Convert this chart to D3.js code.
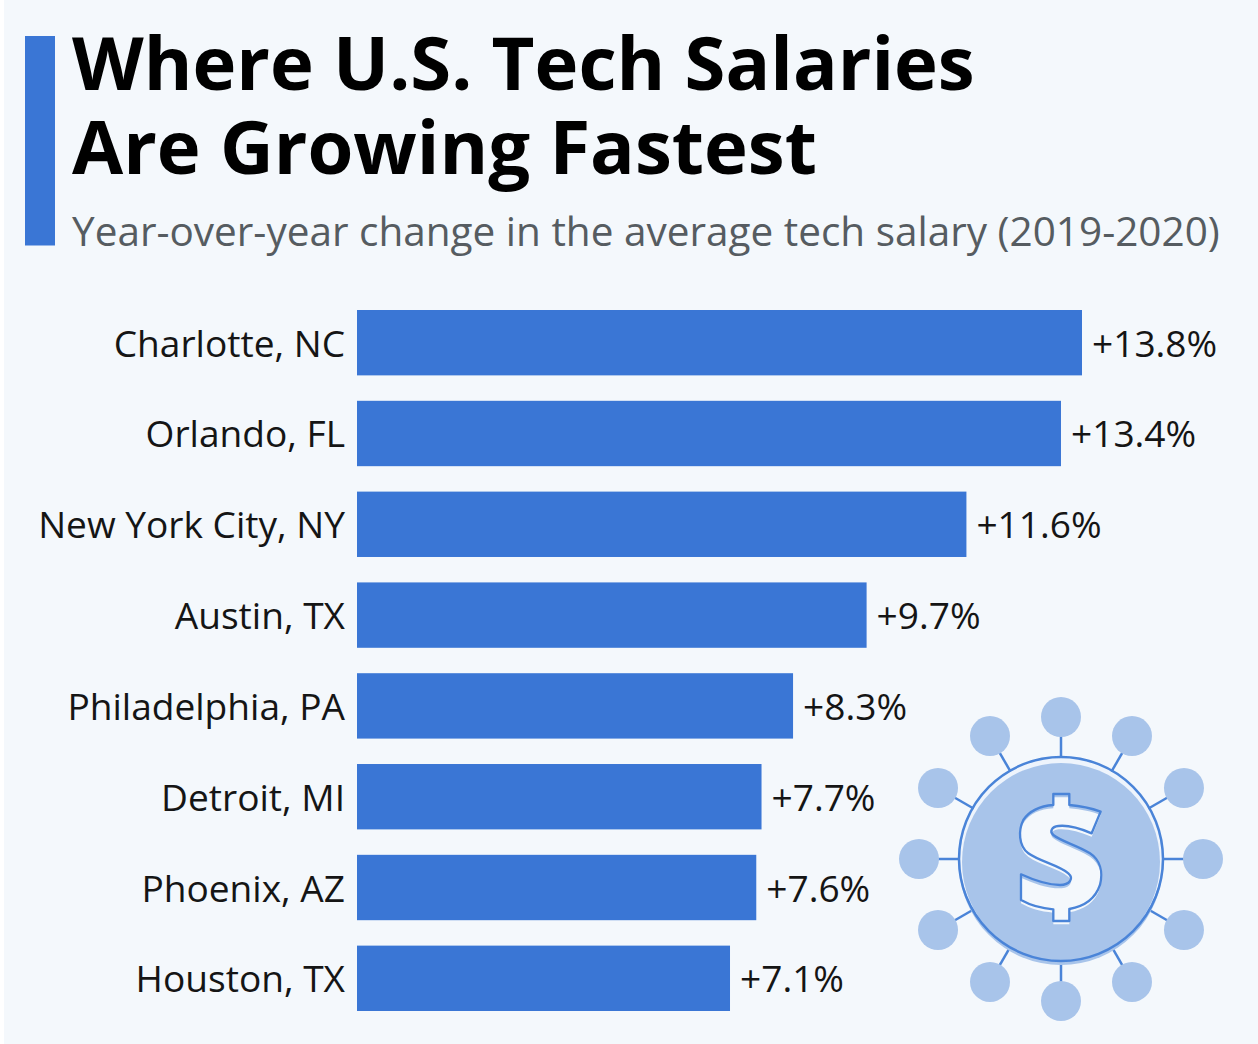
<!DOCTYPE html>
<html><head><meta charset="utf-8"><script src="https://cdn.jsdelivr.net/npm/d3@7"></script>
<style>html,body{margin:0;padding:0;background:#f4f8fc}svg{display:block}text{font-family:"Open Sans",sans-serif}</style></head>
<body><svg id="c" width="1258" height="1044"></svg>
<script>
const cities=["Charlotte, NC","Orlando, FL","New York City, NY","Austin, TX","Philadelphia, PA","Detroit, MI","Phoenix, AZ","Houston, TX"];
const growth=[13.8,13.4,11.6,9.7,8.3,7.7,7.6,7.1];
const titleLines=["Where U.S. Tech Salaries","Are Growing Fastest"];
const subtitle="Year-over-year change in the average tech salary (2019-2020)";
const BLUE="#3a76d5",LIGHT="#a8c4ea",LINE="#4a84d8",BG="#f4f8fc";
const svg=d3.select("#c");
svg.append("rect").attr("width",1258).attr("height",1044).attr("fill",BG);
svg.append("rect").attr("width",4).attr("height",1044).attr("fill","#fff");
svg.append("rect").attr("x",25).attr("y",36).attr("width",30).attr("height",209.5).attr("fill",BLUE);
svg.append("text").attr("font-size",74.2).attr("font-weight",700).attr("fill","#000")
  .selectAll("tspan").data(titleLines).join("tspan").attr("x",72).attr("y",(d,i)=>89.5+i*84).text(d=>d);
svg.append("text").attr("x",72).attr("y",245.5).attr("font-size",40.5).attr("fill","#565c61").text(subtitle);
const x=d3.scaleLinear().domain([0,13.8]).range([357,1082]);
const y=d3.scaleBand().domain(cities).range([310,1011]).paddingInner(0.28).paddingOuter(0);
const g=svg.append("g");
g.selectAll("rect").data(cities).join("rect").attr("x",x(0)).attr("y",d=>y(d)).attr("width",(d,i)=>x(growth[i])-x(0)).attr("height",y.bandwidth()).attr("fill",BLUE);
g.selectAll(".l").data(cities).join("text").attr("class","l").attr("x",345).attr("y",d=>y(d)+y.bandwidth()/2+14).attr("text-anchor","end").attr("font-size",37.1).attr("fill","#151515").text(d=>d);
g.selectAll(".v").data(cities).join("text").attr("class","v").attr("x",(d,i)=>x(growth[i])+10).attr("y",d=>y(d)+y.bandwidth()/2+14).attr("font-size",37.1).attr("fill","#151515").text((d,i)=>"+"+growth[i].toFixed(1)+"%");
const cx=1061,cy=859,ic=svg.append("g");
d3.range(12).map(i=>i*30).forEach(a=>{const r=a*Math.PI/180,s=Math.sin(r),c=-Math.cos(r);
ic.append("line").attr("x1",cx+s*100).attr("y1",cy+c*100).attr("x2",cx+s*130).attr("y2",cy+c*130).attr("stroke",LINE).attr("stroke-width",2.5);
ic.append("circle").attr("cx",cx+s*142).attr("cy",cy+c*142).attr("r",20).attr("fill",LIGHT);});
ic.append("circle").attr("cx",cx).attr("cy",cy+4).attr("r",102).attr("fill",LIGHT);
ic.append("circle").attr("cx",cx).attr("cy",cy).attr("r",101).attr("fill","#eef4fc");
ic.append("circle").attr("cx",cx).attr("cy",cy+3).attr("r",99).attr("fill",LIGHT);
ic.append("circle").attr("cx",cx).attr("cy",cy).attr("r",102).attr("fill","none").attr("stroke",LINE).attr("stroke-width",2.5);
const dollar="M490 312L538 312L538 345C575 348 605 355 632 365L605 430C570 415 530 405 505 408C485 410 478 425 490 435C515 455 560 465 600 490C630 510 640 545 630 585C615 630 580 650 538 657L538 693L490 693L490 658C450 655 420 645 393 630L393 553C430 570 470 585 510 585C540 585 552 565 535 550C505 525 450 515 415 490C385 468 385 420 400 390C420 360 450 348 490 345Z";
const dg=ic.append("g").attr("transform","translate(890,690) scale(0.3333)");
dg.append("path").attr("d",dollar).attr("transform","translate(0,10)").attr("fill",BG);
dg.append("path").attr("d",dollar).attr("fill","none").attr("stroke",LINE).attr("stroke-width",7).attr("stroke-linejoin","round");
</script></body></html>
